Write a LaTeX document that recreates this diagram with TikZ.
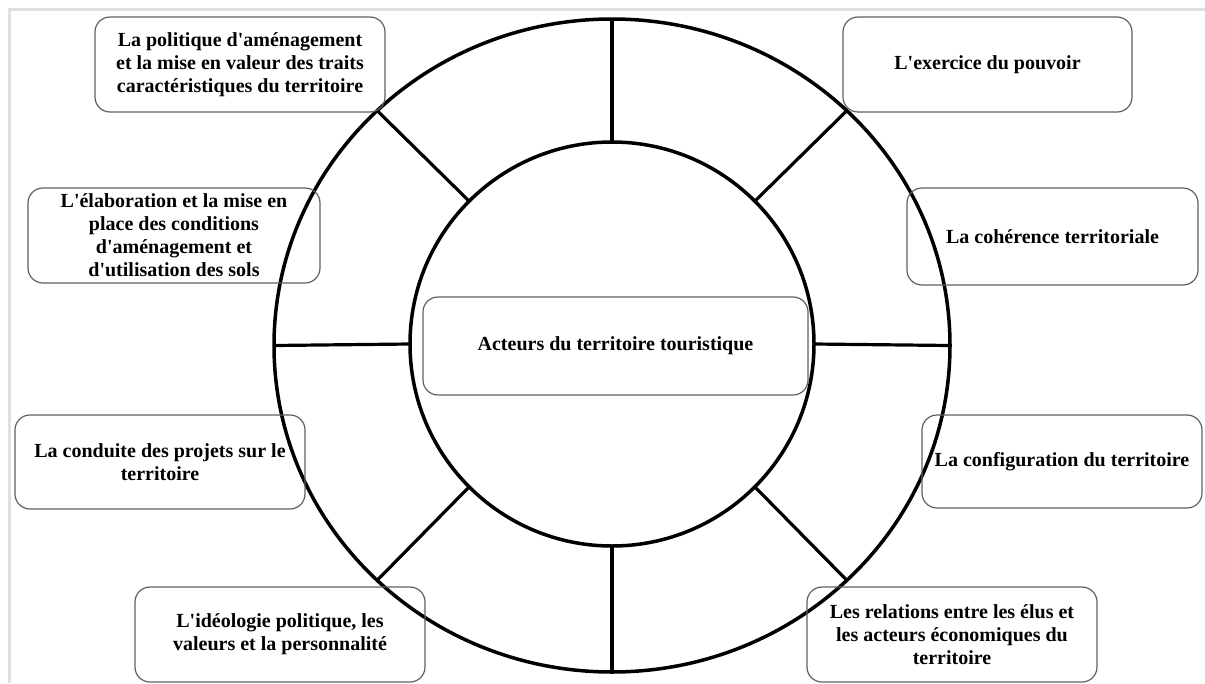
\documentclass[tikz,border=0pt]{standalone}
\usepackage{fontspec}
\setmainfont{Liberation Serif}
\usepackage{tikz}
\usetikzlibrary{shapes.geometric}

\definecolor{framegray}{RGB}{224,224,224}
\definecolor{boxgray}{RGB}{95,95,95}
\newcommand{\apos}{\textquotesingle}

\tikzset{
  rbox/.style={draw=boxgray, line width=1.2pt, rounded corners=15pt, align=center,
    inner sep=0pt, font=\fontsize{20}{23}\selectfont\bfseries},
  ring/.style={draw=black, line width=3.5pt, inner sep=0pt, outer sep=0pt},
}

\begin{document}
\begin{tikzpicture}[x=1pt,y=1pt,yscale=-1,xscale=1]
    \useasboundingbox (0,0) rectangle (1205,683);
    
    %Straight Lines [frame]
    \draw [framegray, line width=3pt] (1205,9.5) -- (9.5,9.5) -- (9.5,683) ;
    
    %Shape: Ellipse [outer ring]
    \node [ring, ellipse, minimum width=676pt, minimum height=653pt] (outer) at (612,345.5) {};
    %Shape: Circle [inner ring]
    \node [ring, circle, minimum size=404pt] (inner) at (612,344) {};
    
    %Straight Lines [spokes]
    \foreach \a in {0,45,...,315}
      \draw [line width=3.2pt] (inner.\a) -- (outer.\a) ;
    
    % Rounded Rect
    \node [rbox, minimum width=385pt, minimum height=98pt] (acteurs) at (615.5,346) {Acteurs du territoire touristique};
    % Rounded Rect
    \node [rbox, minimum width=290pt, minimum height=95pt] (politique) at (240,64.5) {La politique d\apos am\'enagement\\et la mise en valeur des traits\\caract\'eristiques du territoire};
    % Rounded Rect
    \node [rbox, minimum width=289pt, minimum height=95pt] (pouvoir) at (987.5,64.5) {L\apos exercice du pouvoir};
    % Rounded Rect
    \node [rbox, minimum width=292pt, minimum height=95pt] (elaboration) at (174,235.5) {L\apos \'elaboration et la mise en\\place des conditions\\d\apos am\'enagement et\\d\apos utilisation des sols};
    % Rounded Rect
    \node [rbox, minimum width=291pt, minimum height=97pt] (coherence) at (1052.5,236.5) {La coh\'erence territoriale};
    % Rounded Rect
    \node [rbox, minimum width=290pt, minimum height=94pt] (conduite) at (160,462) {La conduite des projets sur le\\territoire};
    % Rounded Rect
    \node [rbox, minimum width=280pt, minimum height=93pt] (configuration) at (1062,461.5) {La configuration du territoire};
    % Rounded Rect
    \node [rbox, minimum width=290pt, minimum height=95pt] (ideologie) at (280,634.5) {L\apos id\'eologie politique, les\\valeurs et la personnalit\'e};
    % Rounded Rect
    \node [rbox, minimum width=290pt, minimum height=95pt] (relations) at (952,634.5) {Les relations entre les \'elus et\\les acteurs \'economiques du\\territoire};
\end{tikzpicture}
\end{document}
